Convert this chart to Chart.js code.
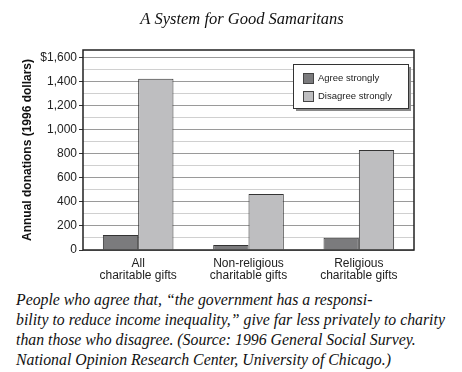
<!DOCTYPE html>
<html><head><meta charset="utf-8">
<script src="https://cdn.jsdelivr.net/npm/chart.js@4"></script>
<style>
body{margin:0;background:#fff;}
#wrap{position:relative;width:462px;height:372px;overflow:hidden;}
#c{position:absolute;left:0;top:0;}
#cap{position:absolute;left:16px;top:290px;font:italic 15.8px "Liberation Serif",serif;line-height:20px;color:#111;white-space:nowrap;}
</style></head><body>
<div id="wrap">
<canvas id="c" width="462" height="290"></canvas>
<div id="cap">People who agree that, “the government has a responsi-<br>bility to reduce income inequality,” give far less privately to charity<br>than those who disagree. (Source: 1996 General Social Survey.<br>National Opinion Research Center, University of Chicago.)</div>
</div>
<script>
const titleText = "A System for Good Samaritans";
const yAxisTitle = "Annual donations (1996 dollars)";
const categories = [["All","charitable gifts"],["Non-religious","charitable gifts"],["Religious","charitable gifts"]];
const seriesNames = ["Agree strongly","Disagree strongly"];
const agreeValues = [124, 42, 102];
const disagreeValues = [1422, 465, 830];
const tickValues = [0,100,200,300,400,500,600,700,800,900,1000,1100,1200,1300,1400,1500,1600];

const frameAndLegend = {
  id:'frameAndLegend',
  afterDraw(chart){
    const {ctx} = chart;
    ctx.save();
    ctx.fillStyle='#111';
    ctx.font='italic 16.5px "Liberation Serif", serif';
    ctx.textAlign='center'; ctx.textBaseline='middle';
    ctx.fillText(titleText, 242, 20);
    ctx.restore();
  },
  afterDatasetsDraw(chart){
    const {ctx, chartArea:a} = chart;
    ctx.save();
    ctx.strokeStyle='#222'; ctx.lineWidth=1.5;
    ctx.strokeRect(a.left, a.top, a.right-a.left, a.bottom-a.top);
    // legend
    const bx = a.right-121, by = a.top+14, bw = 115, bh = 44;
    ctx.fillStyle='#8a8a8a';
    ctx.fillRect(bx+3, by+3, bw, bh);
    ctx.fillStyle='#fff';
    ctx.fillRect(bx, by, bw, bh);
    ctx.strokeStyle='#333'; ctx.lineWidth=1;
    ctx.strokeRect(bx+0.5, by+0.5, bw, bh);
    ctx.font='9.5px "Liberation Sans", Arial, sans-serif';
    ctx.textBaseline='middle';
    chart.data.datasets.forEach((ds,i)=>{
      const sy = by + 9 + i*18;
      ctx.fillStyle=ds.backgroundColor;
      ctx.fillRect(bx+10, sy, 10, 10);
      ctx.strokeStyle='#444';
      ctx.strokeRect(bx+10.5, sy+0.5, 10, 10);
      ctx.fillStyle='#222';
      ctx.fillText(ds.label, bx+25, sy+5.5);
    });
    ctx.restore();
  }
};

new Chart(document.getElementById('c'), {
  type:'bar',
  data:{
    labels: categories,
    datasets:[
      {label:seriesNames[0], data:agreeValues, backgroundColor:'#7b7b7d', borderColor:'#333', borderWidth:1},
      {label:seriesNames[1], data:disagreeValues, backgroundColor:'#bebec0', borderColor:'#333', borderWidth:1}
    ]
  },
  options:{
    responsive:false, animation:false,
    layout:{padding:{left:0,right:48,top:50,bottom:0}},
    datasets:{bar:{categoryPercentage:0.64, barPercentage:1.0}},
    plugins:{
      legend:{display:false},
      tooltip:{enabled:false},
      title:{display:false}
    },
    scales:{
      x:{
        grid:{display:false, drawTicks:false},
        border:{display:false},
        ticks:{color:'#222', padding:7, maxRotation:0, autoSkip:false,
          font:{family:'"Liberation Sans", Arial, sans-serif', size:12, lineHeight:1.04}},
        afterFit(s){ s.height = 40; }
      },
      y:{
        min:0, max:1660,
        afterBuildTicks(s){ s.ticks = tickValues.map(v=>({value:v})); },
        border:{display:false},
        grid:{
          color:(c)=> (c.tick && c.tick.value%200===0) ? '#9a9a9a' : '#d0d0d0',
          tickColor:(c)=> (c.tick && c.tick.value%200===0) ? '#333' : 'rgba(0,0,0,0)',
          tickLength:4, lineWidth:1
        },
        ticks:{color:'#222', padding:2, autoSkip:false,
          font:{family:'"Liberation Sans", Arial, sans-serif', size:12},
          callback:(v)=> v%200!==0 ? '' : (v===1600 ? '$1,600' : v.toLocaleString('en-US'))},
        title:{display:true, text:yAxisTitle, color:'#111',
          font:{family:'"Liberation Sans", Arial, sans-serif', size:12, weight:'bold'},
          padding:{top:20,bottom:0}},
        afterFit(s){ s.width = 83; }
      }
    }
  },
  plugins:[frameAndLegend]
});
</script>
</body></html>
